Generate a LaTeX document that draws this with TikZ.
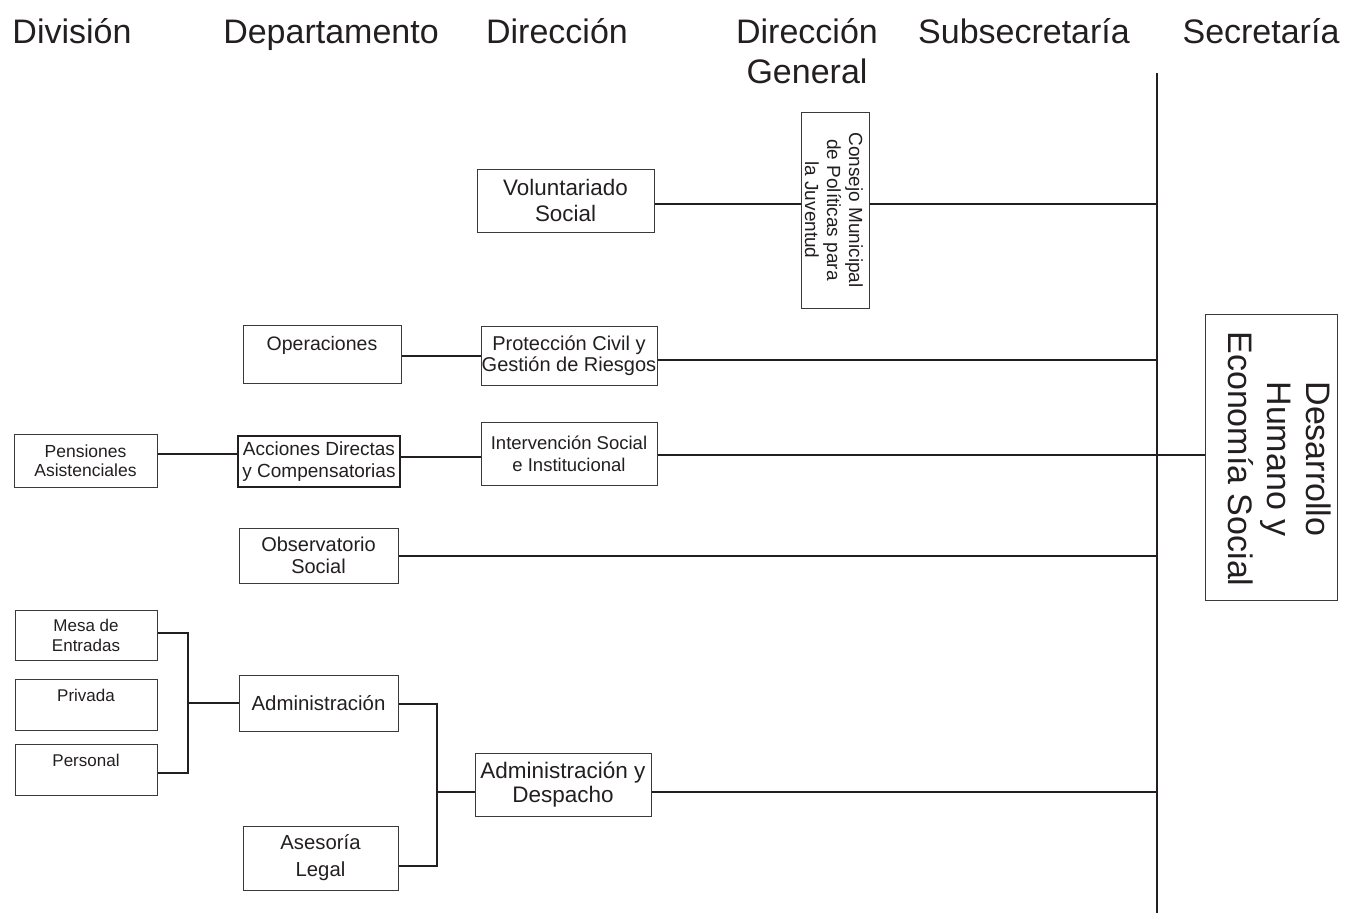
\documentclass[tikz,border=0pt]{standalone}
\usepackage{fontspec}
\setmainfont{Liberation Sans}
\newcommand\myfs[2]{\fontsize{#1pt}{#2pt}\selectfont}
\definecolor{ink}{HTML}{231F20}
\definecolor{boxc}{HTML}{3A3A3A}
\begin{document}
\begin{tikzpicture}[x=1pt,y=-1pt,
  box/.style={draw=boxc,line width=1pt,fill=white,inner sep=0pt,align=center,text=ink},
  thickbox/.style={box,draw=ink,line width=2.6pt},
  conn/.style={draw=ink,line width=2.8pt},
  head/.style={anchor=base,inner sep=0pt,align=center,text=ink,font=\myfs{34}{40}},
  rtext/.style={rotate=-90,inner sep=0pt,align=center,text=ink}]
\useasboundingbox (0,0) rectangle (1358,921);

% headers
\node[head] (hdiv) at (72,43) {División};
\node[head] (hdep) at (331,43) {Departamento};
\node[head] (hdir) at (557,43) {Dirección};
\node[head] (hdg) at (807,83) {Dirección\\General};
\node[head] (hsub) at (1024,43) {Subsecretaría};
\node[head] (hsec) at (1261,43) {Secretaría};

% main vertical line
\coordinate (top) at (1157,73);
\coordinate (bot) at (1157,913);
\draw[conn] (top) -- (bot);

% row coordinates
\coordinate (r1) at (0,204);
\coordinate (r2a) at (0,356);
\coordinate (r2b) at (0,360);
\coordinate (r3a) at (0,454);
\coordinate (r3b) at (0,457);
\coordinate (r3c) at (0,455);
\coordinate (r4) at (0,556);
\coordinate (bA) at (188,633);
\coordinate (bB) at (188,773);
\coordinate (bC) at (188,703);
\coordinate (cA) at (437,704);
\coordinate (cB) at (437,866);
\coordinate (cC) at (437,792);

% boxes
\node[box,minimum width=177,minimum height=63,font=\myfs{22.4}{26}] (vol) at (565.5,200.5) {Voluntariado\\Social};
\node[box,minimum width=68,minimum height=196] (cons) at (835,210) {};
\node[rtext,font=\myfs{19}{22}] (consT) at ([xshift=-1pt]cons.center) {Consejo Municipal\\de Políticas para\\la Juventud};

\node[box,minimum width=158,minimum height=58,font=\myfs{19.5}{22}] (op) at (322,354) {Operaciones\\\mbox{}};
\node[box,minimum width=176,minimum height=59,font=\myfs{20}{21.5}] (prot) at (569,355.5) {Protección Civil y\\Gestión de Riesgos};

\node[box,minimum width=143,minimum height=53,font=\myfs{17.5}{19.5}] (pens) at (85.5,460.5) {Pensiones\\Asistenciales};
\node[thickbox,minimum width=162,minimum height=51,font=\myfs{19}{22}] (acc) at (319,461.5) {Acciones Directas\\y Compensatorias};
\node[box,minimum width=176,minimum height=63,font=\myfs{18.5}{22}] (int) at (569,453.5) {Intervención Social\\e Institucional};

\node[box,minimum width=159,minimum height=55,font=\myfs{20}{21.5}] (obs) at (318.5,555.5) {Observatorio\\Social};

\node[box,minimum width=132,minimum height=286] (des) at (1271,457) {};
\node[rtext,font=\myfs{34}{39}] (desT) at ([xshift=9pt,yshift=-2pt]des.center) {Desarrollo\\Humano y\\Economía Social};

\node[box,minimum width=142,minimum height=50,font=\myfs{17}{20}] (mesa) at (86,635) {Mesa de\\Entradas};
\node[box,minimum width=142,minimum height=51,font=\myfs{17}{19}] (priv) at (86,704.5) {Privada\\\mbox{}};
\node[box,minimum width=142,minimum height=51,font=\myfs{17}{19}] (pers) at (86,769.5) {Personal\\\mbox{}};

\node[box,minimum width=159,minimum height=56,font=\myfs{20.4}{24}] (adm) at (318.5,703) {Administración};
\node[box,minimum width=155,minimum height=64,font=\myfs{20.3}{27}] (ase) at (320.5,858) {Asesoría\\Legal};
\node[box,minimum width=176,minimum height=63,font=\myfs{22.5}{24}] (desp) at (563,784.5) {Administración y\\Despacho};

% connectors
\draw[conn] (vol.east |- r1) -- (cons.west |- r1);
\draw[conn] (cons.east |- r1) -- (top |- r1);
\draw[conn] (op.east |- r2a) -- (prot.west |- r2a);
\draw[conn] (prot.east |- r2b) -- (top |- r2b);
\draw[conn] (pens.east |- r3a) -- (acc.west |- r3a);
\draw[conn] (acc.east |- r3b) -- (int.west |- r3b);
\draw[conn] (int.east |- r3c) -- (des.west |- r3c);
\draw[conn] (obs.east |- r4) -- (top |- r4);
\draw[conn] (mesa.east |- bA) -- (bA) -- (bB) -- (pers.east |- bB);
\draw[conn] (bC) -- (adm.west |- bC);
\draw[conn] (adm.east |- cA) -- (cA) -- (cB) -- (ase.east |- cB);
\draw[conn] (cC) -- (desp.west |- cC);
\draw[conn] (desp.east |- cC) -- (top |- cC);
\end{tikzpicture}
\end{document}
